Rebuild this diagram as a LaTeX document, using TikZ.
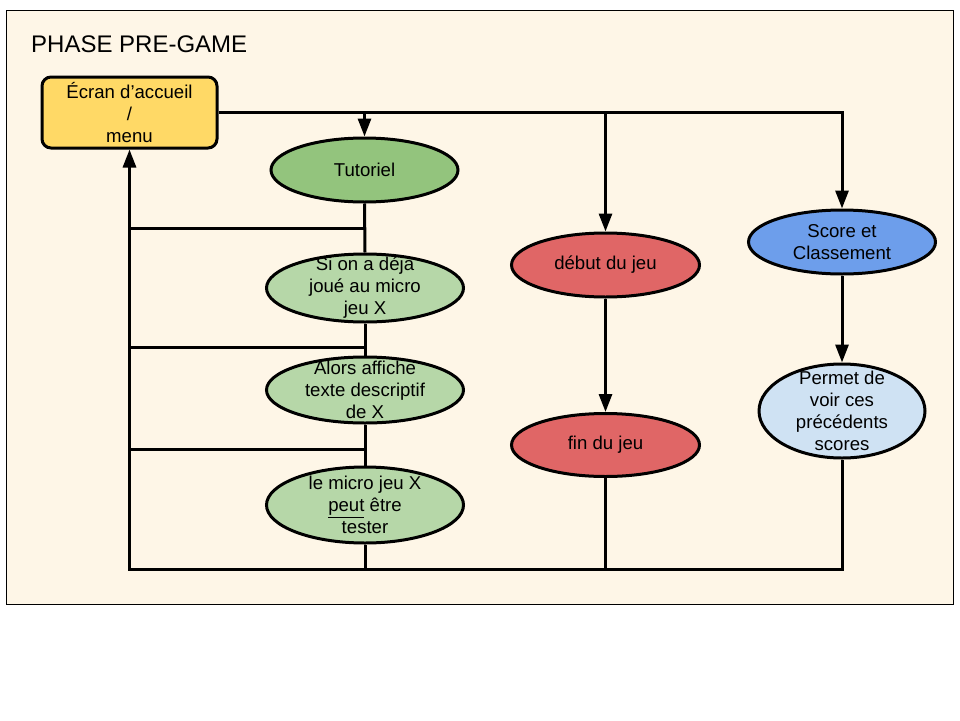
\documentclass[tikz,border=0pt]{standalone}
\usepackage{fontspec}
\setmainfont{Liberation Sans}
\usetikzlibrary{shapes.geometric,arrows.meta}
\definecolor{bgcream}{HTML}{FEF6E7}
\definecolor{menuyel}{HTML}{FFD966}
\definecolor{darkgreen}{HTML}{93C47D}
\definecolor{lightgreen}{HTML}{B6D7A8}
\definecolor{redfill}{HTML}{E06666}
\definecolor{bluefill}{HTML}{6D9EEB}
\definecolor{lightblue}{HTML}{CFE2F3}
\begin{document}
\begin{tikzpicture}[x=1pt,y=-1pt,
  conn/.style={line width=3pt,line join=miter},
  arr/.style={conn,-{Triangle[length=18pt,width=13pt]}},
  oval/.style={ellipse,draw,line width=3pt,inner sep=0pt},
  txt/.style={align=center,font=\fontsize{18.6}{22}\selectfont,inner sep=0pt},
]
\useasboundingbox (0,0) rectangle (960,720);
\draw[line width=1pt, fill=bgcream] (6,10) rectangle (953,604);
\node[anchor=base west, font=\fontsize{24}{28}\selectfont, inner sep=0pt] (title) at (31,52) {PHASE PRE-GAME};

\node[draw, rounded corners=9pt, line width=3pt, fill=menuyel, minimum width=175pt, minimum height=71pt, inner sep=0pt] (menu) at (129.5,112.5) {};
\node[txt] (menutxt) at (menu) {Écran d’accueil\\/\\menu};

\node[oval, fill=darkgreen, minimum width=187pt, minimum height=64pt] (tuto) at (364.5,170) {};
\node[txt] (tutotxt) at (tuto) {Tutoriel};
\node[oval, fill=lightgreen, minimum width=197pt, minimum height=68pt] (si) at (365,288) {};
\node[txt] (sitxt) at (si) {Si on a déjà\\joué au micro\\jeu X};
\node[oval, fill=lightgreen, minimum width=197pt, minimum height=66pt] (alors) at (365,390) {};
\node[txt] (alorstxt) at (alors) {Alors affiche\\texte descriptif\\de X};
\node[oval, fill=lightgreen, minimum width=197pt, minimum height=76pt] (micro) at (365,505) {};
\node[txt] (microtxt) at (micro) {le micro jeu X\\\underline{peut} être\\tester};

\node[oval, fill=redfill, minimum width=188pt, minimum height=64pt] (debut) at (605.5,265) {};
\node[txt] (debuttxt) at (debut) {début du jeu};
\node[oval, fill=redfill, minimum width=188pt, minimum height=63pt] (fin) at (605.5,445) {};
\node[txt] (fintxt) at (fin) {fin du jeu};

\node[oval, fill=bluefill, minimum width=187pt, minimum height=64pt] (score) at (842,242) {};
\node[txt] (scoretxt) at (score) {Score et\\Classement};
\node[oval, fill=lightblue, minimum width=166pt, minimum height=94pt] (permet) at (842,411) {};
\node[txt] (permettxt) at (permet) {Permet de\\voir ces\\précédents\\scores};

\coordinate (j1) at (364.5,112);
\coordinate (j2) at (605.5,112);
\coordinate (j3) at (842,112);
\coordinate (bl) at (129.5,569);
\coordinate (h1) at (364.5,228);
\coordinate (h2) at (364.5,347);
\coordinate (h3) at (364.5,449);

\draw[arr] (menu.east |- j1) -- (j3) -- (score.north);
\draw[arr] (j1) -- (tuto.north);
\draw[arr] (j2) -- (debut.north);
\draw[arr] (score.south) -- (permet.north);
\draw[arr] (debut.south) -- (fin.north);

\draw[conn] (tuto.south) -- (si.north);
\draw[conn] (si.south) -- (alors.north);
\draw[conn] (alors.south) -- (micro.north);
\draw[conn] (micro.south) -- (micro.south |- bl);
\draw[conn] (fin.south) -- (fin.south |- bl);
\draw[arr] (permet.south) -- (permet.south |- bl) -- (bl) -- (menu.south);

\draw[conn] (h1) -- (h1 -| bl);
\draw[conn] (h2) -- (h2 -| bl);
\draw[conn] (h3) -- (h3 -| bl);
\end{tikzpicture}
\end{document}
